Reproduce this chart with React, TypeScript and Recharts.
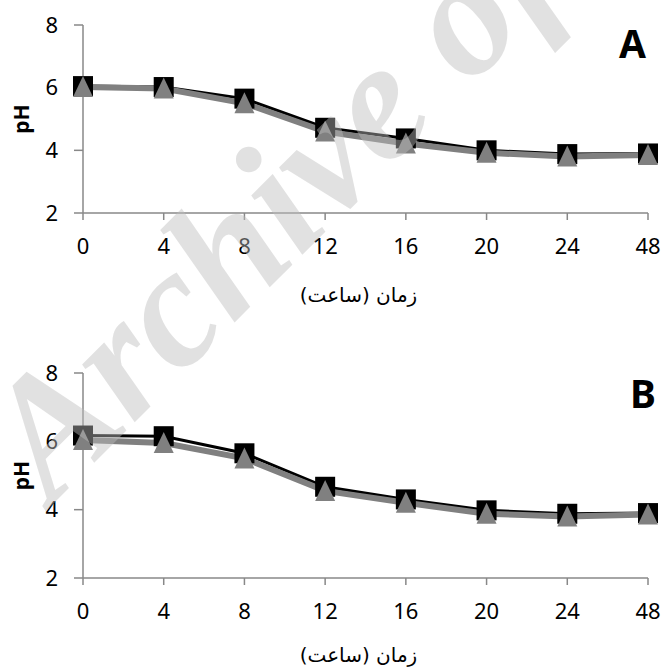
import React from 'react';
import { LineChart, Line, XAxis, YAxis } from 'recharts';

const HOURS = ['0', '4', '8', '12', '16', '20', '24', '48'];
const Y_TICKS = [2, 4, 6, 8];

// panel A
const A_BLACK = [6.05, 6.02, 5.65, 4.72, 4.38, 4.0, 3.88, 3.9];
const A_GRAY = [6.02, 5.97, 5.5, 4.6, 4.22, 3.92, 3.8, 3.85];
// panel B
const B_BLACK = [6.17, 6.15, 5.65, 4.67, 4.3, 3.98, 3.88, 3.9];
const B_GRAY = [6.04, 5.95, 5.5, 4.55, 4.2, 3.88, 3.8, 3.86];

const X_TITLE = 'زمان (ساعت)';
const FONT = '"Noto Sans", "DejaVu Sans", sans-serif';
const AXIS = '#888888';
const GRAY = '#808080';

const toRows = (black: number[], gray: number[]) =>
  HOURS.map((t, i) => ({ t, black: black[i], gray: gray[i] }));

const Square = (props: any) => {
  const { cx, cy, index } = props;
  if (cx == null || cy == null) return <g key={index} />;
  return <rect key={index} x={cx - 10} y={cy - 10} width={20} height={20} fill="#000" />;
};

const Triangle = (props: any) => {
  const { cx, cy, index } = props;
  if (cx == null || cy == null) return <g key={index} />;
  const d = `M${cx},${cy - 11} L${cx + 10},${cy + 10} L${cx - 10},${cy + 10} Z`;
  return <path key={index} d={d} fill={GRAY} />;
};

function Panel({
  black,
  gray,
  height,
  top,
  axisH,
  titleDy,
}: {
  black: number[];
  gray: number[];
  height: number;
  top: number;
  axisH: number;
  titleDy: number;
}) {
  const data = toRows(black, gray);
  const plotH = height - top - axisH;
  return (
    <LineChart width={665} height={height} data={data} margin={{ top, right: 17, left: 0, bottom: 0 }}>
      <XAxis
        dataKey="t"
        height={axisH}
        stroke={AXIS}
        strokeWidth={1.5}
        tickSize={7}
        tickMargin={18}
        tick={{ fill: '#000', fontSize: 22, fontFamily: FONT }}
        tickLine={{ stroke: AXIS, strokeWidth: 1.5 }}
        label={(p: any) => (
          <text
            x={p.viewBox.x + p.viewBox.width / 2 - 7}
            y={p.viewBox.y + titleDy}
            textAnchor="middle"
            direction="rtl"
            fontSize={20}
            fontFamily='"DejaVu Sans", sans-serif'
            fill="#000"
          >
            {X_TITLE}
          </text>
        )}
      />
      <YAxis
        width={83}
        domain={[2, 8]}
        ticks={Y_TICKS}
        stroke={AXIS}
        strokeWidth={1.5}
        tickSize={9}
        tickMargin={16}
        tick={{ fill: '#000', fontSize: 22, fontFamily: FONT }}
        tickLine={{ stroke: AXIS, strokeWidth: 1.5 }}
        label={() => (
          <text
            x={0}
            y={0}
            transform={`translate(29, ${top + plotH / 2}) rotate(-90)`}
            textAnchor="middle"
            fontSize={21}
            fontWeight="bold"
            fontFamily={FONT}
            fill="#000"
          >
            pH
          </text>
        )}
      />
      <Line
        dataKey="black"
        stroke="#000"
        strokeWidth={3}
        dot={Square}
        isAnimationActive={false}
      />
      <Line
        dataKey="gray"
        stroke={GRAY}
        strokeWidth={6}
        dot={Triangle}
        isAnimationActive={false}
      />
    </LineChart>
  );
}

const letter: React.CSSProperties = {
  position: 'absolute',
  fontFamily: FONT,
  fontWeight: 'bold',
  fontSize: 39,
  lineHeight: 1,
  color: '#000',
};

export default function App() {
  return (
    <div style={{ position: 'absolute', left: 0, top: 0, width: 665, height: 672, background: '#fff', overflow: 'hidden' }}>
      <div style={{ position: 'absolute', left: 0, top: 0 }}>
        <Panel black={A_BLACK} gray={A_GRAY} height={330} top={25} axisH={117} titleDy={89} />
      </div>
      <div style={{ position: 'absolute', left: 0, top: 340 }}>
        <Panel black={B_BLACK} gray={B_GRAY} height={332} top={33} axisH={94} titleDy={84} />
      </div>
      <div style={{ ...letter, left: 619, top: 23 }}>A</div>
      <div style={{ ...letter, left: 630, top: 373 }}>B</div>
      <svg width={665} height={672} style={{ position: 'absolute', left: 0, top: 0, pointerEvents: 'none' }}>
        <text
          x={52}
          y={505}
          transform="rotate(-45 52 505)"
          fontFamily='"Liberation Serif", serif'
          fontStyle="italic"
          fontWeight="bold"
          fontSize={170}
          fill="#bdbdbd"
          fillOpacity={0.45}
        >
          Archive of SID
        </text>
      </svg>
    </div>
  );
}
